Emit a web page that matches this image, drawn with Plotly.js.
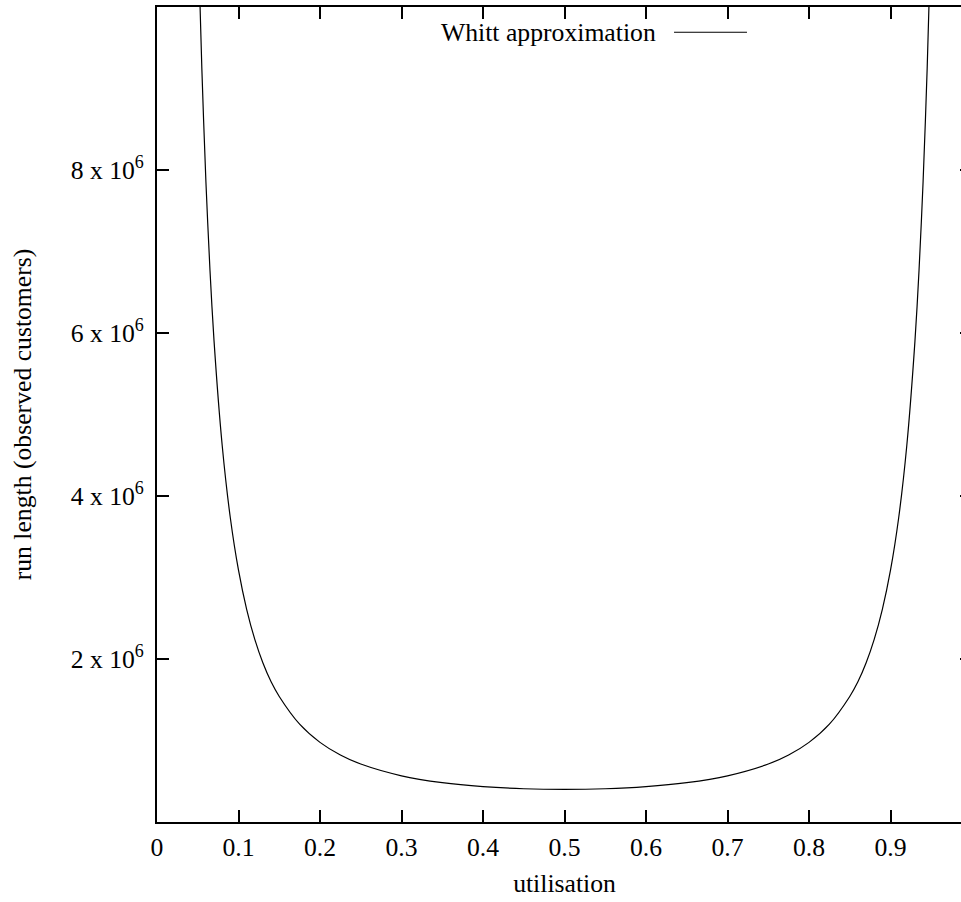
<!DOCTYPE html>
<html>
<head>
<meta charset="utf-8">
<script src="https://cdn.plot.ly/plotly-3.0.1.min.js"></script>
<style>
html, body { margin: 0; padding: 0; overflow: hidden; background: #fff; }
#chart { width: 975px; height: 902px; }
</style>
</head>
<body>
<div id="chart"></div>
<script>
// utilisation (rho) readings and run length readings
const utilisation = [0.048, 0.05, 0.055, 0.06, 0.065, 0.07, 0.08, 0.09, 0.10, 0.11, 0.12, 0.13, 0.14, 0.15, 0.175, 0.2, 0.225, 0.25, 0.3, 0.35, 0.4, 0.45, 0.5,
                     0.55, 0.6, 0.65, 0.7, 0.75, 0.775, 0.8, 0.825, 0.85, 0.86, 0.87, 0.88, 0.89, 0.9, 0.91, 0.92, 0.93, 0.935, 0.94, 0.945, 0.95, 0.952];
const runLength = [12.0e6, 11.08e6, 9.25e6, 7.86e6, 6.77e6, 5.90e6, 4.62e6, 3.73e6, 3.09e6, 2.61e6, 2.24e6, 1.95e6, 1.72e6, 1.54e6, 1.20e6, 0.977e6, 0.822e6, 0.711e6, 0.567e6, 0.483e6, 0.434e6, 0.408e6, 0.400e6,
                   0.408e6, 0.434e6, 0.483e6, 0.567e6, 0.711e6, 0.822e6, 0.977e6, 1.20e6, 1.54e6, 1.72e6, 1.95e6, 2.24e6, 2.61e6, 3.09e6, 3.73e6, 4.62e6, 5.90e6, 6.77e6, 7.86e6, 9.25e6, 11.08e6, 12.0e6];
const seriesName = 'Whitt approximation';
const xTickVals = [0, 0.1, 0.2, 0.3, 0.4, 0.5, 0.6, 0.7, 0.8, 0.9, 1.0];
const xTickText = ['0', '0.1', '0.2', '0.3', '0.4', '0.5', '0.6', '0.7', '0.8', '0.9', '1'];
const yTickVals = [2e6, 4e6, 6e6, 8e6];
const yTickText = ['2 x 10<sup>6</sup>', '4 x 10<sup>6</sup>', '6 x 10<sup>6</sup>', '8 x 10<sup>6</sup>'];

const font = { family: 'Liberation Serif, Times New Roman, serif', size: 25.7, color: '#000' };

const trace = {
  x: utilisation, y: runLength, type: 'scatter', mode: 'lines', name: seriesName,
  line: { color: '#000', width: 1.2, shape: 'spline', smoothing: 0.8 },
  showlegend: false, hoverinfo: 'skip'
};

const layout = {
  width: 975, height: 902,
  margin: { l: 157, r: 3, t: 7, b: 80 },
  paper_bgcolor: '#fff', plot_bgcolor: '#fff',
  font: font,
  showlegend: false,
  xaxis: {
    range: [0, 1], tickvals: xTickVals, ticktext: xTickText,
    ticks: 'inside', ticklen: 12, tickwidth: 2, tickcolor: '#000',
    showline: true, linecolor: '#000', linewidth: 2, mirror: 'ticks',
    showgrid: false, zeroline: false, ticklabelstandoff: 1,
    tickfont: font,
    title: { text: 'utilisation', font: font, standoff: 13 }
  },
  yaxis: {
    range: [0, 1e7], tickvals: yTickVals, ticktext: yTickText,
    ticks: 'inside', ticklen: 12, tickwidth: 2, tickcolor: '#000',
    showline: true, linecolor: '#000', linewidth: 2, mirror: 'ticks',
    showgrid: false, zeroline: false, ticklabelstandoff: 6,
    tickfont: font,
    title: { text: 'run length (observed customers)', font: font, standoff: 32 }
  },
  annotations: [{
    xref: 'paper', yref: 'paper', x: 0.6147, y: 0.969, xanchor: 'right', yanchor: 'middle',
    text: seriesName, showarrow: false, font: font
  }],
  shapes: [{
    type: 'line', xref: 'paper', yref: 'paper', x0: 0.6344, x1: 0.7239, y0: 0.969, y1: 0.969,
    line: { color: '#000', width: 1.2 }
  }]
};

Plotly.newPlot('chart', [trace], layout, { displayModeBar: false, staticPlot: true });
</script>
</body>
</html>
